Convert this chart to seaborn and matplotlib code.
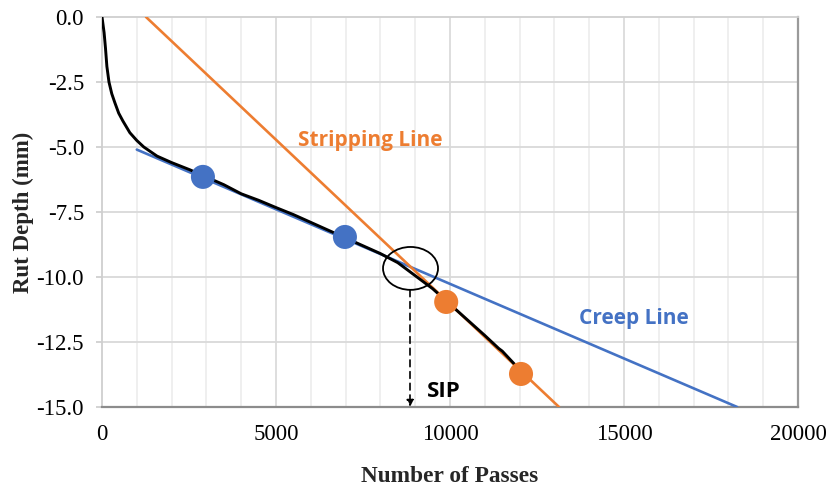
import numpy as np
import pandas as pd
import matplotlib
matplotlib.use("Agg")
import matplotlib.pyplot as plt
from matplotlib.patches import Ellipse
import seaborn as sns

# Measured rut depth curve (passes, mm)
passes = [0, 30, 60, 100, 140, 200, 280, 370, 480, 600, 800, 1000, 1200, 1580,
          2000, 2530, 2900, 3500, 4000, 4500, 5000, 5500, 6000, 6500, 7000,
          7500, 8000, 8500, 9000, 9500, 10000, 10500, 11000, 11400, 11500, 11850]
rut_depth = [0.0, -0.3, -0.6, -1.2, -1.9, -2.5, -2.95, -3.3, -3.7, -4.0, -4.45,
             -4.75, -5.0, -5.35, -5.6, -5.88, -6.1, -6.45, -6.8, -7.05, -7.33,
             -7.6, -7.9, -8.2, -8.5, -8.8, -9.1, -9.45, -9.95, -10.45,
             -11.05, -11.65, -12.25, -12.75, -12.85, -13.35]

# Fitted lines (end points)
creep_x = [1000, 18250]
creep_y = [-5.1, -15.0]
strip_x = [1264, 13132]
strip_y = [0.0, -15.0]

# Points used for each fit
creep_pts_x = [2900, 6980]
creep_pts_y = [-6.15, -8.46]
strip_pts_x = [9890, 12040]
strip_pts_y = [-10.96, -13.73]

# Stripping inflection point
sip_x = 8850
sip_y = -9.67

x_ticks = [0, 5000, 10000, 15000, 20000]
y_ticks = [0.0, -2.5, -5.0, -7.5, -10.0, -12.5, -15.0]

BLUE = "#4472C4"
ORANGE = "#ED7D31"

sns.set_theme(style="white")
plt.rcParams["font.family"] = ["Liberation Serif", "DejaVu Serif"]
plt.rcParams["axes.unicode_minus"] = False

fig = plt.figure(figsize=(8.28, 4.87), dpi=100)
ax = fig.add_axes([0.1232, 0.1643, 0.9638 - 0.1232, 0.9651 - 0.1643])

# grid
for xv in range(1000, 20000, 1000):
    col = "#d4d4d4" if xv % 5000 == 0 else "#ebebeb"
    ax.axvline(xv, color=col, lw=1.1, zorder=0)
for yv in y_ticks[1:-1]:
    ax.axhline(yv, color="#d9d9d9", lw=1.3, zorder=0)

df_curve = pd.DataFrame({"Passes": passes, "Rut": rut_depth})
df_creep = pd.DataFrame({"Passes": creep_x, "Rut": creep_y})
df_strip = pd.DataFrame({"Passes": strip_x, "Rut": strip_y})

sns.lineplot(data=df_creep, x="Passes", y="Rut", color=BLUE, lw=1.9, ax=ax, zorder=3)
sns.lineplot(data=df_strip, x="Passes", y="Rut", color=ORANGE, lw=1.9, ax=ax, zorder=3)
sns.lineplot(data=df_curve, x="Passes", y="Rut", color="black", lw=2.1, ax=ax,
             zorder=4, sort=False)

sns.scatterplot(x=creep_pts_x, y=creep_pts_y, color=BLUE, s=300, edgecolor="none",
                ax=ax, zorder=5)
sns.scatterplot(x=strip_pts_x, y=strip_pts_y, color=ORANGE, s=300, edgecolor="none",
                ax=ax, zorder=5)

# SIP marker
ax.add_patch(Ellipse((sip_x + 15, sip_y), 1580, 1.65, fill=False, ec="black",
                     lw=1.3, zorder=6))
ax.annotate("", xy=(sip_x, -15.0), xytext=(sip_x, sip_y - 0.83),
            arrowprops=dict(arrowstyle="-|>", color="black", lw=1.2,
                            linestyle=(0, (4, 3)), mutation_scale=10,
                            shrinkA=0, shrinkB=0), zorder=6)

sans = ["Open Sans", "DejaVu Sans"]
ax.text(9330, -14.42, "SIP", family=sans, fontweight="bold", fontsize=16,
        color="black", va="center", ha="left")
ax.text(5620, -4.75, "Stripping Line", family=sans, fontweight="bold",
        fontsize=15, color=ORANGE, va="center", ha="left")
ax.text(13700, -11.6, "Creep Line", family=sans, fontweight="bold",
        fontsize=15, color=BLUE, va="center", ha="left")

ax.set_xlim(0, 20000)
ax.set_ylim(-15, 0)
ax.set_xticks(x_ticks)
ax.set_xticklabels([str(v) for v in x_ticks])
ax.set_yticks(y_ticks)
ax.set_yticklabels([f"{v:.1f}" for v in y_ticks])
ax.tick_params(axis="x", length=0, pad=12.5, labelsize=16.5, colors="black")
ax.tick_params(axis="y", length=4, width=1.1, color="#c8c8c8", pad=9,
               labelsize=16.5, labelcolor="black", left=True)

ax.set_xlabel("Number of Passes", fontsize=16.8, fontweight="bold", labelpad=15)
ax.set_ylabel("Rut Depth (mm)", fontsize=16.5, fontweight="bold", labelpad=2)

for side in ["top", "left"]:
    ax.spines[side].set_color("#cfcfcf")
    ax.spines[side].set_linewidth(1.3)
ax.spines["right"].set_color("#9a9a9a")
ax.spines["right"].set_linewidth(1.6)
ax.spines["bottom"].set_color("#8c8c8c")
ax.spines["bottom"].set_linewidth(1.6)
for s in ax.spines.values():
    s.set_zorder(1)

fig.savefig("out.png", dpi=100, facecolor="white")
